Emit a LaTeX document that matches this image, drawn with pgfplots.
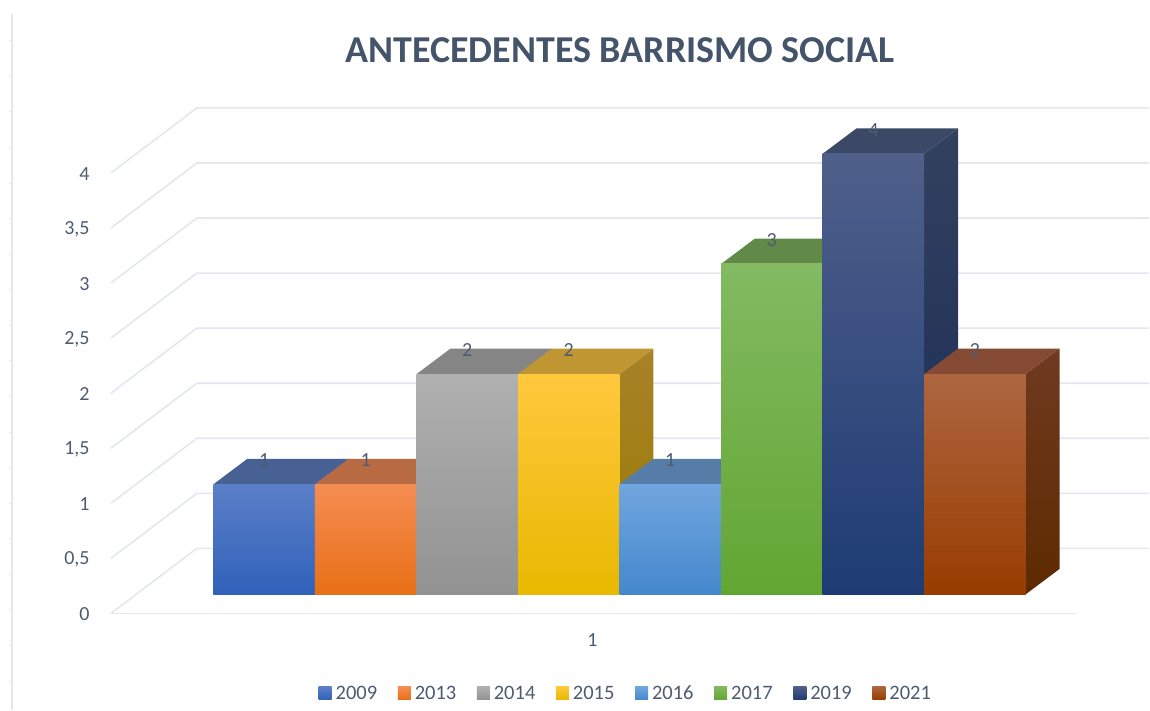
\documentclass[border=0pt]{standalone}
\usepackage{pgfplots}
\pgfplotsset{compat=1.18}
\usepackage{fontspec}
\setmainfont{Carlito}
\definecolor{txt}{HTML}{4D5B70}
\definecolor{titlec}{HTML}{44546A}
\definecolor{gridc}{HTML}{E4E7F0}
% per year: top face, side top, side bottom, front top, front middle, front bottom
\newcommand{\barcolors}[7]{%
  \definecolor{tf#1}{HTML}{#2}\definecolor{st#1}{HTML}{#3}\definecolor{sb#1}{HTML}{#4}%
  \definecolor{ft#1}{HTML}{#5}\definecolor{fm#1}{HTML}{#6}\definecolor{fb#1}{HTML}{#7}}
\barcolors{2009}{486195}{3B5490}{2F4A7A}{5B7FC7}{3F6FC8}{3062BA}
\barcolors{2013}{B86A42}{A85A2A}{8F4A10}{F58D53}{F47C2A}{E86F15}
\barcolors{2014}{858585}{787878}{686868}{B0B0B0}{A5A5A5}{929292}
\barcolors{2015}{BF9632}{A88229}{9A7A00}{FFC83D}{FFC400}{E9B800}
\barcolors{2016}{567CA8}{4A6F9A}{30608F}{71A6DF}{5B9BD5}{4488CC}
\barcolors{2017}{618A48}{557A40}{3F6F20}{83BA62}{70AD47}{62A632}
\barcolors{2019}{3B4866}{33415F}{172B56}{4F5F8A}{2F4A80}{1E3C74}
\barcolors{2021}{844A33}{6F3A20}{5E2A00}{AD6640}{A4490F}{983C00}
% x0, x1, x0 back, x1 back, value, value back, year
\newcommand{\threedbar}[7]{%
  \addplot[forget plot,draw=none,top color=st#7,bottom color=sb#7] coordinates {(#2,0) (#2,#5) (#4,#6) (#4,0.2314)} --cycle;
  \addplot[forget plot,draw=none,fill=tf#7] coordinates {(#1,#5) (#3,#6) (#4,#6) (#2,#5)} --cycle;
  \addplot[draw=none,top color=ft#7,middle color=fm#7,bottom color=fb#7] coordinates {(#1,0) (#1,#5) (#2,#5) (#2,0)} --cycle;
  \addlegendentry{#7}}
\newcommand{\wall}[2]{\addplot[forget plot,gridc,line width=1.6pt] coordinates {(-1.0089,#1) (-0.1624,#2) (9.2175,#2)};}
\begin{document}
\begin{tikzpicture}
\begin{axis}[
  scale only axis, width=1150pt, height=710pt,
  xmin=-2.1014, xmax=9.2175, ymin=-1.0463, ymax=5.3965,
  clip=false,
  axis line style={draw=none},
  major tick length=0pt,
  xtick={3.734}, xticklabels={1},
  ytick={0,0.5,1,1.5,2,2.5,3,3.5,4},
  yticklabels={0,{0,5},1,{1,5},2,{2,5},3,{3,5},4},
  yticklabel style={anchor=east,xshift=93pt,yshift=-20pt,font=\fontsize{20}{24}\selectfont,text=txt},
  xticklabel style={yshift=80pt,font=\fontsize{20}{24}\selectfont,text=txt},
  /pgf/number format/assume math mode=true,
  title={\fontsize{38}{44}\selectfont\bfseries ANTECEDENTES BARRISMO SOCIAL},
  title style={at={(axis description cs:0.5395,0.9211)},anchor=center,text=titlec,inner sep=0pt},
  legend columns=8,
  legend style={draw=none,fill=none,at={(axis description cs:0.5445,0.0232)},anchor=center,
    font=\fontsize{20.5}{24}\selectfont,text=txt,
    /tikz/every even column/.append style={column sep=18.6pt}},
  legend image code/.code={\path[#1] (0pt,-6.5pt) rectangle (13pt,6.5pt);\path (15pt,0pt);},
]
% outer rule and its small marks
\addplot[forget plot,gridc,line width=1.6pt] coordinates {(-1.9833,5.2722) (-1.9833,-1.0463)};
\addplot[forget plot,only marks,mark=-,mark size=1.5pt,mark options={draw=gridc,line width=1pt}] coordinates {
 (-2.0,5.0272) (-2.0,4.7042) (-2.0,4.3811) (-2.0,4.0581) (-2.0,3.7350) (-2.0,3.4120) (-2.0,3.0889)
 (-2.0,2.7659) (-2.0,2.4428) (-2.0,2.1198) (-2.0,1.7967) (-2.0,1.4737) (-2.0,1.1506) (-2.0,0.8276)
 (-2.0,0.5045) (-2.0,0.1815) (-2.0,-0.1416) (-2.0,-0.4646) (-2.0,-0.7877)};
% walls
\wall{3.8276}{4.4174}
\wall{3.3276}{3.9174}
\wall{2.8276}{3.4174}
\wall{2.3276}{2.9174}
\wall{1.8276}{2.4174}
\wall{1.3276}{1.9174}
\wall{0.8276}{1.4174}
\wall{0.3276}{0.9174}
\wall{-0.1724}{0.4174}
\addplot[forget plot,gridc,line width=1.6pt] coordinates {(-1.0089,-0.1724) (8.499,-0.1724)};
% bars: value 1,1,2,2,1,3,4,2
\threedbar{0}{1}{0.3346}{1.3346}{1}{1.2314}{2009}
\threedbar{1}{2}{1.3346}{2.3346}{1}{1.2314}{2013}
\threedbar{2}{3}{2.3346}{3.3346}{2}{2.2314}{2014}
\threedbar{3}{4}{3.3346}{4.3346}{2}{2.2314}{2015}
\threedbar{4}{5}{4.3346}{5.3346}{1}{1.2314}{2016}
\threedbar{5}{6}{5.3346}{6.3346}{3}{3.2314}{2017}
\threedbar{6}{7}{6.3346}{7.3346}{4}{4.2314}{2019}
\threedbar{7}{8}{7.3346}{8.3346}{2}{2.2314}{2021}
% value labels
\addplot[forget plot,only marks,mark=none,
  nodes near coords,
  every node near coord/.append style={anchor=center,yshift=24pt,inner sep=0pt,font=\fontsize{20}{24}\selectfont,text=txt}]
  coordinates {(0.5,1) (1.5,1) (2.5,2) (3.5,2) (4.5,1) (5.5,3) (6.5,4) (7.5,2)};
\end{axis}
\end{tikzpicture}
\end{document}
